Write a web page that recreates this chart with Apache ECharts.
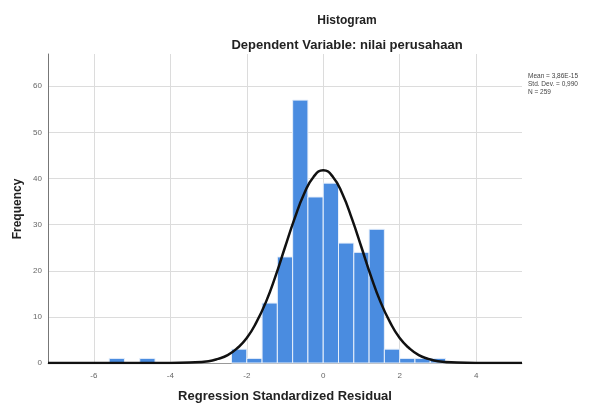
<!DOCTYPE html>
<html>
<head>
<meta charset="utf-8">
<title>Histogram</title>
<script src="https://cdn.jsdelivr.net/npm/echarts@6/dist/echarts.min.js"></script>
<style>
  html, body { margin: 0; padding: 0; background: #fff; }
  #chart { width: 599px; height: 403px; }
</style>
</head>
<body>
<div id="chart"></div>
<script>
// histogram bins (left edge, width 0.4) and counts
var binWidth = 0.4;
var binStarts = [-5.6, -4.8, -2.4, -2.0, -1.6, -1.2, -0.8, -0.4, 0.0, 0.4, 0.8, 1.2, 1.6, 2.0, 2.4, 2.8];
var counts    = [1,    1,    3,    1,    13,   23,   57,   36,   39,  26,  24,  29,  3,   1,   1,   1];

// normal curve
var curveX = [-7.2, -5, -4, -3.5, -3, -2.75, -2.5, -2.25, -2, -1.75, -1.5, -1.25, -1, -0.75, -0.5, -0.25, 0,
  0.25, 0.5, 0.75, 1, 1.25, 1.5, 1.75, 2, 2.25, 2.5, 2.75, 3, 3.5, 4, 5, 5.2];
var curveY = [0, 0, 0, 0.1, 0.4, 0.9, 1.7, 3.2, 5.4, 8.8, 13.2, 18.8, 25.1, 31.3, 36.7, 40.4, 41.8,
  40.4, 36.7, 31.3, 25.1, 18.8, 13.2, 8.8, 5.4, 3.2, 1.7, 0.9, 0.4, 0.1, 0, 0, 0];

var legendLines = ['Mean = 3,86E-15', 'Std. Dev. = 0,990', 'N = 259'];

var font = 'Arial, "Liberation Sans", sans-serif';
var chart = echarts.init(document.getElementById('chart'));

var barData = [];
for (var i = 0; i < binStarts.length; i++) {
  barData.push([binStarts[i], counts[i]]);
}
var lineData = [];
for (var j = 0; j < curveX.length; j++) {
  lineData.push([curveX[j], curveY[j]]);
}

var option = {
  animation: false,
  grid: { left: 48, right: 77, top: 54, bottom: 40 },
  xAxis: {
    type: 'value',
    min: -7.2,
    max: 5.2,
    splitNumber: 5,
    axisLine: { show: true, onZero: false, lineStyle: { color: '#999', width: 1 } },
    axisTick: { show: false },
    axisLabel: {
      showMinLabel: false, showMaxLabel: false,
      color: '#666', fontSize: 8, fontFamily: font, margin: 9
    },
    splitLine: { show: true, showMinLine: false, showMaxLine: false, lineStyle: { color: '#dcdcdc', width: 1 } }
  },
  yAxis: {
    type: 'value',
    min: 0,
    max: 67,
    interval: 10,
    axisLine: { show: true, onZero: false, lineStyle: { color: '#777', width: 1 } },
    axisTick: { show: false },
    axisLabel: {
      showMaxLabel: false,
      color: '#666', fontSize: 8, fontFamily: font, margin: 6
    },
    splitLine: { show: true, showMaxLine: false, lineStyle: { color: '#dcdcdc', width: 1 } }
  },
  series: [
    {
      type: 'custom',
      data: barData,
      encode: { x: 0, y: 1 },
      renderItem: function (params, api) {
        var x0 = api.value(0);
        var c = api.value(1);
        var p0 = api.coord([x0, c]);
        var p1 = api.coord([x0 + binWidth, 0]);
        return {
          type: 'rect',
          shape: { x: p0[0], y: p0[1], width: p1[0] - p0[0], height: p1[1] - p0[1] },
          style: { fill: '#4a8ce0', stroke: '#e8f0fb', lineWidth: 1 }
        };
      }
    },
    {
      type: 'line',
      data: lineData,
      smooth: true,
      symbol: 'none',
      lineStyle: { color: '#111', width: 2.5 },
      z: 5
    }
  ],
  graphic: [
    {
      type: 'text', x: 347, y: 21,
      style: { text: 'Histogram', font: 'bold 12px ' + font, fill: '#222', textAlign: 'center', textVerticalAlign: 'middle' }
    },
    {
      type: 'text', x: 347, y: 45,
      style: { text: 'Dependent Variable: nilai perusahaan', font: 'bold 13px ' + font, fill: '#222', textAlign: 'center', textVerticalAlign: 'middle' }
    },
    {
      type: 'text', x: 18, y: 209, rotation: Math.PI / 2,
      style: { text: 'Frequency', font: 'bold 12px ' + font, fill: '#222', textAlign: 'center', textVerticalAlign: 'middle' }
    },
    {
      type: 'text', x: 285, y: 396,
      style: { text: 'Regression Standardized Residual', font: 'bold 13px ' + font, fill: '#222', textAlign: 'center', textVerticalAlign: 'middle' }
    },
    {
      type: 'text', x: 528, y: 72,
      style: { text: legendLines.join('\n'), font: '6.5px ' + font, lineHeight: 8, fill: '#444', textAlign: 'left', textVerticalAlign: 'top' }
    }
  ]
};

chart.setOption(option);
</script>
</body>
</html>
